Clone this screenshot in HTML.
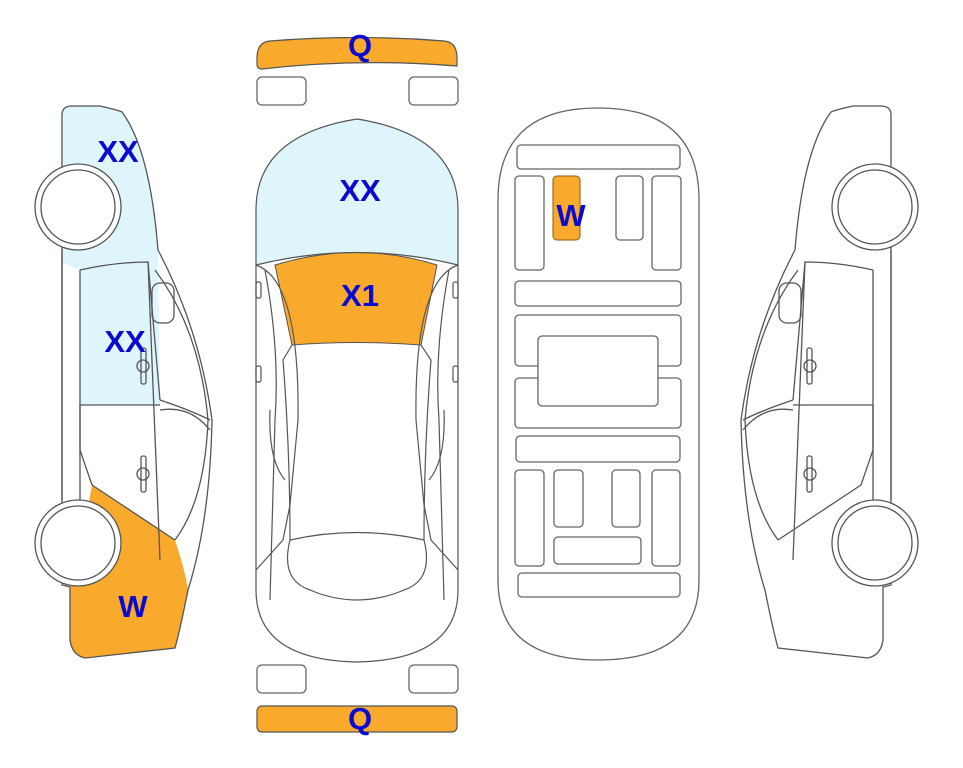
<!DOCTYPE html>
<html><head><meta charset="utf-8"><style>
html,body{margin:0;padding:0;background:#fff;width:963px;height:768px;overflow:hidden}
text{font-family:"Liberation Sans",sans-serif;font-weight:bold;fill:#0a0ad0;font-size:31px;text-anchor:middle}
</style></head><body>
<svg width="963" height="768" viewBox="0 0 963 768" xmlns="http://www.w3.org/2000/svg">
<defs>
<g id="side" fill="none" stroke="#555" stroke-width="1.3">
<path d="M62,115 Q62,106 72,106 L100,106 Q118,110 122,112 Q150,150 158,250 Q200,330 212,420 Q210,520 188,590 Q180,630 175,648 L85,658 Q72,655 70,640 L70,587 L62,585 L62,115 Z"/>
<path d="M80,270 Q115,262 148,262 L160,400"/>
<path d="M148,262 L160,560"/>
<path d="M80,270 L80,500"/>
<path d="M62,250 L62,500"/>
<path d="M80,405 L160,405"/>
<path d="M80,405 L80,450 L92,485 L175,540"/>
<path d="M155,270 Q200,330 208,420 Q205,500 175,540"/>
<path d="M160,400 Q190,410 210,420"/>
<path d="M160,410 Q190,405 210,430"/>
<rect x="152" y="283" width="22" height="40" rx="8"/>
<rect x="141" y="348" width="5" height="36" rx="2"/>
<circle cx="143" cy="366" r="6"/>
<rect x="141" y="456" width="5" height="36" rx="2"/>
<circle cx="143" cy="474" r="6"/>
</g>
<g id="wheels" fill="#fff" stroke="#555" stroke-width="1.3">
<circle cx="78" cy="207" r="43"/>
<circle cx="78" cy="207" r="37"/>
<circle cx="78" cy="543" r="43"/>
<circle cx="78" cy="543" r="37"/>
</g>
</defs>
<!-- left car -->
<path d="M62,115 Q62,106 72,106 L100,106 Q118,110 122,112 Q150,150 158,250 L160,405 L80,405 L80,270 L62,262 Z" fill="#dff5fc"/>
<path d="M92,485 L175,540 Q185,570 188,590 Q180,630 175,648 L85,658 Q72,655 70,640 L70,587 L80,555 Z" fill="#f9aa2d"/>
<use href="#side"/>
<use href="#wheels"/>
<text x="118" y="162">XX</text>
<text x="125" y="352">XX</text>
<text x="133" y="617">W</text>
<!-- right car mirrored -->
<g transform="translate(953,0) scale(-1,1)">
<use href="#side"/>
<use href="#wheels"/>
</g>
<!-- top view -->
<path d="M257,58 Q257,42 270,41 Q357,34 444,41 Q457,42 457,58 L457,66 Q357,58 262,69 Q257,69 257,64 Z" fill="#f9aa2d" stroke="#555" stroke-width="1.2"/>
<rect x="257" y="706" width="200" height="26" rx="5" fill="#f9aa2d" stroke="#555" stroke-width="1.2"/>
<g fill="#fff" stroke="#666" stroke-width="1.3">
<rect x="257" y="77" width="49" height="28" rx="5"/><rect x="409" y="77" width="49" height="28" rx="5"/>
<rect x="257" y="665" width="49" height="28" rx="5"/><rect x="409" y="665" width="49" height="28" rx="5"/>
</g>
<path d="M256,210 Q256,135 357,119 Q458,135 458,210 L458,265 Q357,240 256,265 Z" fill="#dff5fc"/>
<path d="M275,265 Q357,240 437,265 L421,345 Q357,340 292,345 Z" fill="#f9aa2d" stroke="#555" stroke-width="1"/>
<g fill="none" stroke="#555" stroke-width="1.2">
<path d="M256,210 Q256,135 357,119 Q458,135 458,210 L458,590 Q458,660 357,662 Q256,660 256,590 Z"/>
<path d="M256,265 Q357,240 458,265"/>
<path d="M256,265 Q300,280 298,420 L290,505 L283,540 L256,570"/>
<path d="M458,265 Q414,280 416,420 L424,505 L431,540 L458,570"/>
<path d="M292,345 L283,360 Q290,450 290,540 Q280,580 310,590 Q357,610 404,590 Q434,580 424,540 Q424,450 431,360 L421,345"/>
<path d="M290,540 Q357,525 424,540"/>
<path d="M265,270 Q280,350 275,420 L270,600"/>
<path d="M449,270 Q434,350 439,420 L444,600"/>
<path d="M270,410 Q268,460 285,480 M444,410 Q446,460 429,480"/>
<rect x="256" y="282" width="5" height="16" rx="2"/><rect x="453" y="282" width="5" height="16" rx="2"/>
<rect x="256" y="366" width="5" height="16" rx="2"/><rect x="453" y="366" width="5" height="16" rx="2"/>
</g>
<text x="360" y="56">Q</text>
<text x="360" y="201">XX</text>
<text x="360" y="306">X1</text>
<text x="360" y="729">Q</text>
<!-- underside -->
<g fill="none" stroke="#666" stroke-width="1.3">
<path d="M498,200 Q498,108 598,108 Q699,108 699,200 L699,580 Q699,660 598,660 Q498,660 498,580 Z"/>
<rect x="517" y="145" width="163" height="24" rx="4"/>
<rect x="515" y="176" width="29" height="94" rx="4"/>
<rect x="616" y="176" width="27" height="64" rx="4"/>
<rect x="652" y="176" width="29" height="94" rx="4"/>
<rect x="515" y="281" width="166" height="25" rx="4"/>
<rect x="515" y="315" width="166" height="51" rx="4"/>
<rect x="515" y="378" width="166" height="50" rx="4"/>
<rect x="538" y="336" width="120" height="70" rx="4" fill="#fff"/>
<rect x="516" y="436" width="164" height="26" rx="4"/>
<rect x="515" y="470" width="29" height="96" rx="4"/>
<rect x="554" y="470" width="29" height="57" rx="4"/>
<rect x="612" y="470" width="28" height="57" rx="4"/>
<rect x="652" y="470" width="28" height="96" rx="4"/>
<rect x="554" y="537" width="87" height="27" rx="4"/>
<rect x="518" y="573" width="162" height="24" rx="4"/>
</g>
<rect x="553" y="176" width="27" height="64" rx="4" fill="#f9aa2d" stroke="#8a5a10" stroke-width="1"/>
<text x="571" y="226">W</text>
</svg>
</body></html>
